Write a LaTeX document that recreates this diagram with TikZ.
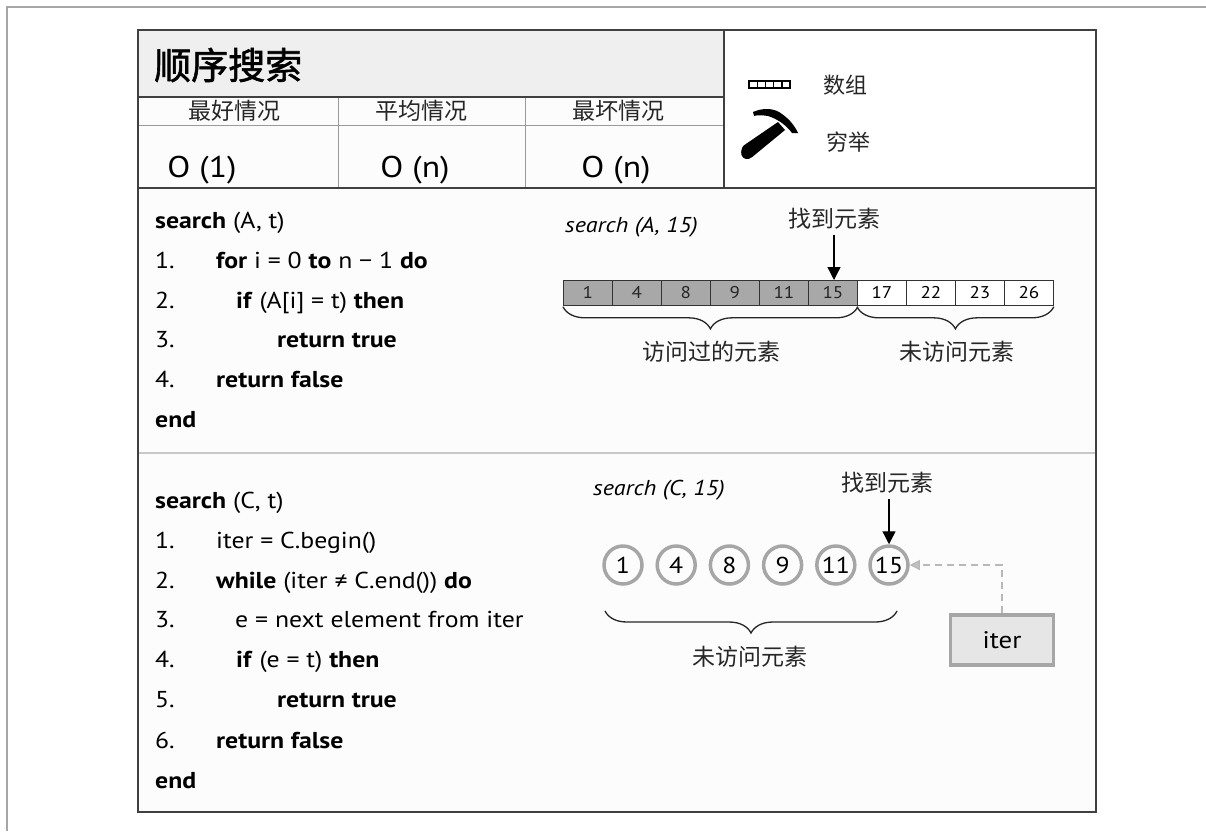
\documentclass[tikz,border=0pt]{standalone}
\usepackage{fontspec}
\setmainfont{PT Sans}[FakeStretch=1.12]
\newfontfamily\cjk{Noto Sans CJK SC}
\newfontfamily\cjktitle{Noto Sans CJK SC}[FakeBold=1.6]
\usetikzlibrary{arrows.meta,decorations.pathreplacing,calc}
\definecolor{titlefill}{HTML}{EFEFEF}
\definecolor{boxfill}{HTML}{FCFCFC}
\definecolor{darkline}{HTML}{404040}
\definecolor{midline}{HTML}{9A9A9A}
\definecolor{lightline}{HTML}{C8C8C8}
\definecolor{cellgray}{HTML}{A8A8A8}
\definecolor{circgray}{HTML}{A6A6A6}
\definecolor{iterfill}{HTML}{E6E6E6}
\begin{document}
\begin{tikzpicture}[x=1pt,y=-1pt,
  code/.style={anchor=base west,font=\fontsize{23}{23}\selectfont,inner sep=0},
  cjkl/.style={font=\cjk\fontsize{23}{23}\selectfont,inner sep=0,text=black!85},
  cjks/.style={font=\cjk\fontsize{23}{23}\selectfont,inner sep=0,text=black!85},
  bigo/.style={font=\fontsize{30}{30}\selectfont,inner sep=0,anchor=base},
  cell/.style={draw=black!80,line width=0.8pt,minimum width=49pt,minimum height=25pt,inner sep=0,anchor=north west,font=\fontsize{17}{17}\selectfont},
  circ/.style={circle,draw=circgray,line width=3.5pt,minimum size=38pt,inner sep=0,font=\fontsize{23}{23}\selectfont},
  bracestyle/.style={decorate,decoration={brace,mirror,amplitude=22pt},line width=1.3pt,black!85},
  pointer/.style={line width=1.3pt,-{Triangle[width=13pt,length=13pt]}},
  italiclabel/.style={anchor=base west,font=\itshape\fontsize{21.5}{21.5}\selectfont,inner sep=0}
]
\useasboundingbox (0,0) rectangle (1206,831);
% outer frame
\draw[gray!70,line width=1.5pt] (7,831) -- (7,7) -- (1206,7);
% main box
\fill[boxfill] (138,30) rectangle (1096,812);
\fill[titlefill] (138,30) rectangle (724,97);
\fill[white] (724,30) rectangle (1096,188);
\draw[midline,line width=0.8pt] (138,125) -- (724,125);
\draw[midline,line width=0.8pt] (338,97) -- (338,188);
\draw[midline,line width=0.8pt] (525,97) -- (525,188);
\draw[darkline,line width=1.6pt] (138,97) -- (724,97);
\draw[darkline,line width=1.6pt] (724,30) -- (724,188);
\draw[darkline,line width=1.6pt] (138,188) -- (1096,188);
\draw[lightline,line width=1.5pt] (138,453) -- (1096,453);
\draw[darkline,line width=1.8pt] (138,30) rectangle (1096,812);

% header texts
\node[font=\cjktitle\fontsize{37}{37}\selectfont,anchor=west,inner sep=0] (title) at (154,65) {顺序搜索};
\node[cjkl] (h1) at (234,111) {最好情况};
\node[cjkl] (h2) at (421,111) {平均情况};
\node[cjkl] (h3) at (618,111) {最坏情况};
\node[bigo] (o1) at (202,177) {O (1)};
\node[bigo] (o2) at (415,177) {O (n)};
\node[bigo] (o3) at (616,177) {O (n)};

% legend icons
\draw[line width=1.6pt] (749,81) rectangle (790,88);
\foreach \xx in {757.2,765.4,773.6,781.8} \draw[line width=1.4pt] (\xx,81) -- (\xx,88);
\node[font=\cjk\fontsize{22}{22}\selectfont,inner sep=0,text=black!85] (lg1) at (845,85) {数组};
% hammer head
\fill (753,112) .. controls (762,108) and (772,108) .. (779,112) .. controls (787,117) and (794,124) .. (798,133) -- (792,133) .. controls (787,126) and (778,119) .. (768,116) .. controls (762,115) and (757,115) .. (754,116) -- cycle;
% hammer handle
\fill (778,122) -- (785,130) -- (752.2,157) .. controls (748,160.5) and (743,159.5) .. (741.5,155) .. controls (740.5,151) and (742,147) .. (743.8,145.4) -- cycle;
\node[font=\cjk\fontsize{22}{22}\selectfont,inner sep=0,text=black!85] (lg2) at (848,142) {穷举};

% code section 1
\node[code] (a0) at (155,228) {\textbf{search} (A, t)};
\node[code] (a1n) at (155,268) {1.};
\node[code] (a1) at (216,268) {\textbf{for} i = 0 \textbf{to} n − 1 \textbf{do}};
\node[code] (a2n) at (155,308) {2.};
\node[code] (a2) at (236,308) {\textbf{if} (A[i] = t) \textbf{then}};
\node[code] (a3n) at (155,347) {3.};
\node[code] (a3) at (277,347) {\textbf{return true}};
\node[code] (a4n) at (155,387) {4.};
\node[code] (a4) at (216,387) {\textbf{return false}};
\node[code] (a5) at (155,427) {\textbf{end}};

% array
\node[italiclabel] (sA) at (565,232) {search (A, 15)};
\foreach \v [count=\i] in {1,4,8,9,11,15}
  \node[cell,fill=cellgray,text=black!85] (c\i) at ({563+49*(\i-1)},280) {\v};
\foreach \v [count=\i from 7] in {17,22,23,26}
  \node[cell,fill=white] (c\i) at ({563+49*(\i-1)},280) {\v};
\node[cjks] (f1) at (834,219) {找到元素};
\draw[pointer] ($(f1.south)+(0,5)$) -- (f1.south |- c6.north);
\draw[bracestyle] ($(c1.south west)+(0,1)$) -- ($(c6.south east)+(0,1)$);
\draw[bracestyle] ($(c7.south west)+(0,1)$) -- ($(c10.south east)+(0,1)$);
\node[cjkl] (v1) at (711,352) {访问过的元素};
\node[cjkl] (v2) at (957,352) {未访问元素};

% code section 2
\node[code] (b0) at (155,508) {\textbf{search} (C, t)};
\node[code] (b1n) at (155,548) {1.};
\node[code] (b1) at (216,548) {iter = C.begin()};
\node[code] (b2n) at (155,588) {2.};
\node[code] (b2) at (216,588) {\textbf{while} (iter ≠ C.end()) \textbf{do}};
\node[code] (b3n) at (155,627) {3.};
\node[code] (b3) at (235,627) {e = next element from iter};
\node[code] (b4n) at (155,667) {4.};
\node[code] (b4) at (236,667) {\textbf{if} (e = t) \textbf{then}};
\node[code] (b5n) at (155,707) {5.};
\node[code] (b5) at (277,707) {\textbf{return true}};
\node[code] (b6n) at (155,748) {6.};
\node[code] (b6) at (216,748) {\textbf{return false}};
\node[code] (b7) at (155,788) {\textbf{end}};

% circles
\node[italiclabel] (sC) at (593,495) {search (C, 15)};
\foreach \v [count=\i] in {1,4,8,9,11,15}
  \node[circ] (k\i) at ({623+53.2*(\i-1)},565) {\v};
\node[cjks] (f2) at (887,483) {找到元素};
\draw[pointer] ($(f2.south -| k6)+(0,5)$) -- (k6.north);
\node[draw=circgray,fill=iterfill,line width=3.5pt,minimum width=103pt,minimum height=50pt,inner sep=0,font=\fontsize{24}{24}\selectfont] (it) at (1002,640) {iter};
\draw[circgray!80,dash pattern=on 7pt off 5pt,line width=1.2pt,-{Triangle[width=10pt,length=10pt,fill=circgray!70]}] (it.north) |- (k6.east);
\coordinate (bl) at (605,611);
\coordinate (br) at (897,611);
\draw[bracestyle] (bl) -- (br);
\node[cjkl] (v3) at (750,657) {未访问元素};
\end{tikzpicture}
\end{document}
